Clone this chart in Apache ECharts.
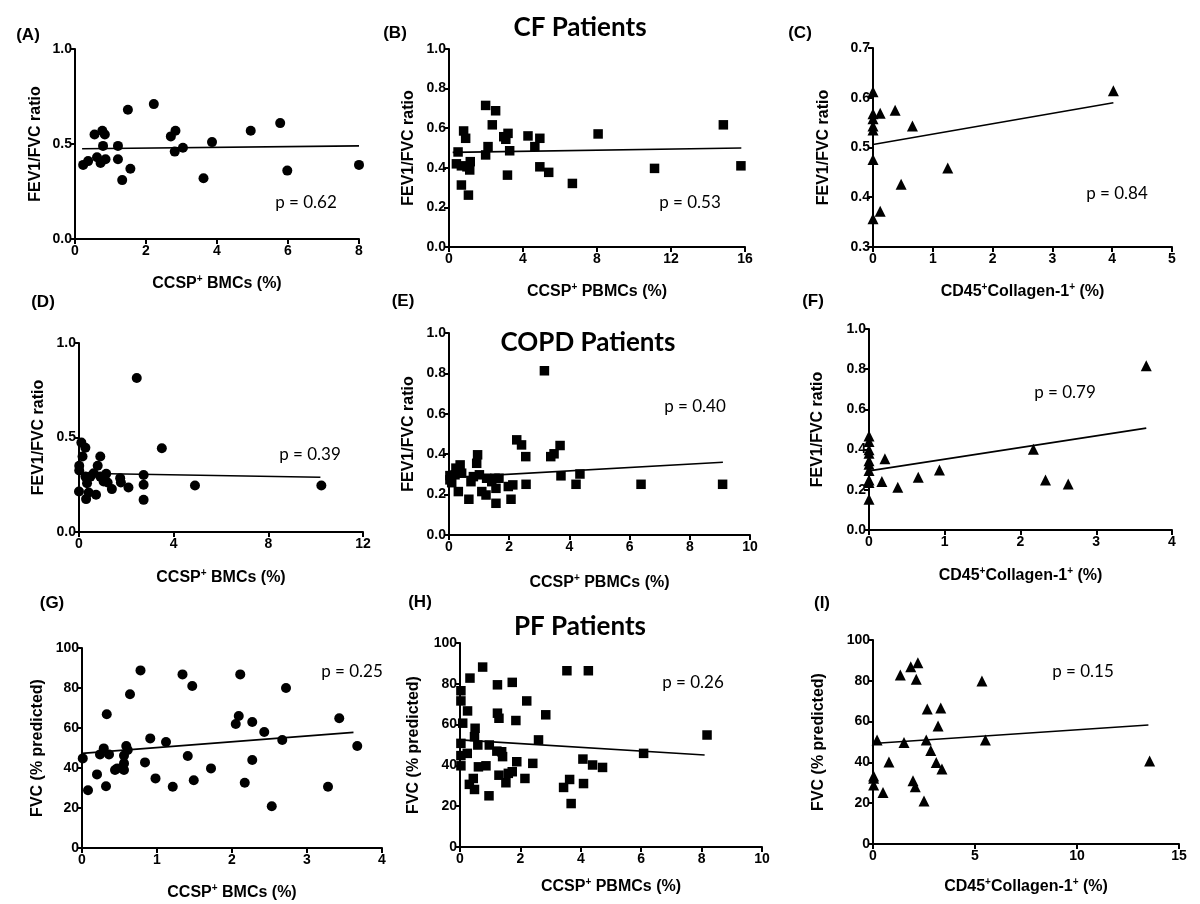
<!DOCTYPE html>
<html>
<head>
<meta charset="utf-8">
<script src="https://cdn.jsdelivr.net/npm/echarts@6/dist/echarts.min.js"></script>
<style>html,body{margin:0;padding:0;background:#fff}#c{width:1200px;height:904px}</style>
</head>
<body>
<div id="c"></div>
<script>
// ---------------- DATA ----------------
// CF patients
const cfBmcFev = [[0.23,0.39],[0.37,0.41],[0.55,0.55],[0.62,0.43],[0.72,0.40],[0.77,0.57],[0.79,0.49],[0.84,0.55],[0.86,0.42],[1.21,0.49],[1.21,0.42],[1.33,0.31],[1.49,0.68],[1.56,0.37],[2.22,0.71],[2.70,0.54],[2.83,0.57],[2.81,0.46],[3.04,0.48],[3.62,0.32],[3.86,0.51],[4.95,0.57],[5.78,0.61],[5.98,0.36],[8.0,0.39]];
const cfBmcFit = [[0.2,0.475],[8.0,0.49]];
const cfPbmcFev = [[0.49,0.48],[0.40,0.42],[0.67,0.41],[0.79,0.586],[0.67,0.313],[0.90,0.549],[0.97,0.405],[1.05,0.262],[1.12,0.389],[1.15,0.431],[1.98,0.715],[1.98,0.465],[2.11,0.507],[2.34,0.617],[2.52,0.688],[2.96,0.557],[3.07,0.544],[3.19,0.574],[3.16,0.363],[3.28,0.486],[4.27,0.561],[4.64,0.507],[4.91,0.549],[4.91,0.405],[5.39,0.377],[6.67,0.321],[8.06,0.571],[11.11,0.397],[14.83,0.617],[15.78,0.41]];
const cfPbmcFit = [[0.2,0.478],[15.8,0.50]];
const cfColFev = [[0,0.612],[0,0.568],[0,0.558],[0,0.543],[0,0.535],[0,0.476],[0,0.357],[0.12,0.569],[0.12,0.372],[0.37,0.575],[0.47,0.426],[0.66,0.543],[1.25,0.459],[4.02,0.614]];
const cfColFit = [[0,0.506],[4.02,0.59]];
// COPD patients
const copdBmcFev = [[0,0.214],[0.01,0.351],[0.01,0.325],[0.1,0.473],[0.15,0.399],[0.27,0.446],[0.3,0.174],[0.27,0.293],[0.34,0.258],[0.41,0.209],[0.48,0.293],[0.62,0.311],[0.72,0.197],[0.79,0.351],[0.90,0.399],[0.90,0.293],[1.04,0.267],[1.15,0.308],[1.21,0.262],[1.39,0.227],[1.74,0.285],[1.77,0.262],[2.09,0.235],[2.44,0.815],[2.73,0.302],[2.73,0.25],[2.73,0.17],[3.5,0.443],[4.9,0.246],[10.24,0.246]];
const copdBmcFit = [[0,0.311],[10.2,0.29]];
const copdPbmcFev = [[0.03,0.294],[0.03,0.273],[0.09,0.259],[0.2,0.298],[0.23,0.331],[0.31,0.215],[0.37,0.347],[0.42,0.306],[0.66,0.177],[0.73,0.264],[0.81,0.289],[0.92,0.355],[0.95,0.397],[1.01,0.298],[1.09,0.215],[1.23,0.198],[1.25,0.281],[1.42,0.264],[1.53,0.281],[1.56,0.231],[1.56,0.157],[1.66,0.281],[1.97,0.24],[2.06,0.177],[2.12,0.248],[2.25,0.471],[2.41,0.446],[2.55,0.388],[2.56,0.251],[3.17,0.813],[3.38,0.388],[3.49,0.402],[3.69,0.443],[3.72,0.293],[4.22,0.251],[4.35,0.302],[6.38,0.251],[9.09,0.251]];
const copdPbmcFit = [[0,0.284],[9.1,0.36]];
const copdColFev = [[0,0.468],[0,0.44],[0,0.399],[0,0.382],[0,0.344],[0,0.327],[0,0.296],[0,0.249],[0,0.236],[0,0.153],[0.17,0.241],[0.21,0.354],[0.38,0.213],[0.65,0.262],[0.93,0.299],[2.17,0.402],[2.33,0.249],[2.63,0.229],[3.66,0.817]];
const copdColFit = [[0,0.294],[3.66,0.507]];
// PF patients
const pfBmcFvc = [[0.01,44.8],[0.08,28.9],[0.2,36.8],[0.24,46.8],[0.29,49.8],[0.32,30.9],[0.33,66.9],[0.36,46.8],[0.44,39],[0.47,39.8],[0.56,39],[0.56,42.3],[0.56,46.2],[0.59,51],[0.61,49],[0.64,76.9],[0.78,88.8],[0.84,42.8],[0.91,54.8],[0.98,34.8],[1.12,53],[1.21,30.6],[1.34,86.8],[1.41,46],[1.47,81],[1.49,33.9],[1.72,39.8],[2.05,62],[2.09,66],[2.11,86.8],[2.17,32.6],[2.27,63],[2.27,44],[2.43,58],[2.53,20.9],[2.67,54],[2.72,80],[3.28,30.6],[3.43,64.9],[3.67,51]];
const pfBmcFit = [[0,47.3],[3.62,57.8]];
const pfPbmcFvc = [[0.03,76.6],[0.03,71.6],[0.09,60.7],[0.03,50.8],[0.03,44.8],[0.03,39.8],[0.24,45.9],[0.25,66.7],[0.33,82.8],[0.31,30.7],[0.44,33.6],[0.48,28.2],[0.5,58.2],[0.48,54.1],[0.59,50],[0.61,39.3],[0.75,88.2],[0.86,39.8],[0.96,25.1],[0.97,50],[1.22,47],[1.24,79.5],[1.24,65.6],[1.29,63.1],[1.29,35.2],[1.38,46.7],[1.41,44.3],[1.52,31.5],[1.6,36.1],[1.73,80.7],[1.73,36.9],[1.85,62],[1.88,41.8],[2.15,33.6],[2.21,71.6],[2.41,41],[2.6,52.5],[2.84,64.8],[3.43,29.2],[3.54,86.4],[3.63,33.1],[3.68,21.3],[4.07,43.1],[4.09,31.1],[4.25,86.4],[4.39,40.2],[4.72,39],[6.08,45.9],[8.18,54.9]];
const pfPbmcFit = [[0,52.5],[8.1,45.1]];
const pfColFvc = [[0.03,33.3],[0.03,32.2],[0.03,28.9],[0.2,51],[0.49,25.2],[0.78,40.2],[1.34,82.8],[1.52,49.8],[1.85,86.9],[1.96,31],[2.07,28.1],[2.12,80.7],[2.2,88.9],[2.5,21.1],[2.61,51],[2.66,66.2],[2.83,45.8],[3.1,40],[3.19,57.8],[3.32,66.7],[3.38,36.8],[5.34,79.9],[5.51,51],[13.56,40.7]];
const pfColFit = [[0,49.3],[13.5,58.3]];

// Labels
const panelLetters = ['(A)','(B)','(C)','(D)','(E)','(F)','(G)','(H)','(I)'];
const pValues = ['p = 0.62','p = 0.53','p = 0.84','p = 0.39','p = 0.40','p = 0.79','p = 0.25','p = 0.26','p = 0.15'];
const groupTitles = ['CF Patients','COPD Patients','PF Patients'];
const xNames = ['CCSP{s|+} BMCs (%)','CCSP{s|+} PBMCs (%)','CD45{s|+}Collagen-1{s|+} (%)'];
const yNames = ['FEV1/FVC ratio','FEV1/FVC ratio','FVC (% predicted)'];

// ---------------- LAYOUT ----------------
const AX = 'Liberation Sans, Arial, sans-serif';
const CAL = 'Lato, "Open Sans", sans-serif';
const panels = [
  {d:cfBmcFev, f:cfBmcFit, sym:'circle', g:[75,49,284,190], x:[0,8,2], y:[0,1,0.5], row:0, col:0, lab:[28,35], p:[306,203], xg:35, yg:31},
  {d:cfPbmcFev, f:cfPbmcFit, sym:'rect', g:[449,49,296,198], x:[0,16,4], y:[0,1,0.2], row:0, col:1, lab:[395,33], p:[690,203], xg:35, yg:32},
  {d:cfColFev, f:cfColFit, sym:'triangle', g:[873,48,299,199], x:[0,5,1], y:[0.3,0.7,0.1], row:0, col:2, lab:[800,33], p:[1117,194], xg:35, yg:41},
  {d:copdBmcFev, f:copdBmcFit, sym:'circle', g:[79,343,284,189], x:[0,12,4], y:[0,1,0.5], row:1, col:0, lab:[43,302], p:[310,455], xg:36, yg:32},
  {d:copdPbmcFev, f:copdPbmcFit, sym:'rect', g:[449,333,301,202], x:[0,10,2], y:[0,1,0.2], row:1, col:1, lab:[403,301], p:[695,407], xg:38, yg:32},
  {d:copdColFev, f:copdColFit, sym:'triangle', g:[869,329,303,201], x:[0,4,1], y:[0,1,0.2], row:1, col:2, lab:[813,301], p:[1065,393], xg:36, yg:43},
  {d:pfBmcFvc, f:pfBmcFit, sym:'circle', g:[82,648,300,200], x:[0,4,1], y:[0,100,20], row:2, col:0, lab:[52,603], p:[352,672], xg:35, yg:36},
  {d:pfPbmcFvc, f:pfPbmcFit, sym:'rect', g:[460,643,302,204], x:[0,10,2], y:[0,100,20], row:2, col:1, lab:[420,602], p:[693,683], xg:30, yg:38},
  {d:pfColFvc, f:pfColFit, sym:'triangle', g:[873,640,306,204], x:[0,15,5], y:[0,100,20], row:2, col:2, lab:[822,603], p:[1083,672], xg:33, yg:46}
];
const titlePos = [[580,28],[588,343],[580,627]];
const symSize = {circle:10, rect:9.5, triangle:11};

const grid=[], xAxis=[], yAxis=[], series=[], graphic=[];
const axisCommon = {
  axisLine:{show:true, onZero:false, lineStyle:{color:'#000', width:2}},
  axisTick:{show:true, length:5, lineStyle:{color:'#000', width:2}},
  splitLine:{show:false}
};
panels.forEach((p,i)=>{
  grid.push({left:p.g[0], top:p.g[1], width:p.g[2], height:p.g[3], containLabel:false});
  xAxis.push(Object.assign({}, axisCommon, {
    type:'value', gridIndex:i, min:p.x[0], max:p.x[1], interval:p.x[2],
    axisLabel:{color:'#000', fontFamily:AX, fontWeight:'bold', fontSize:14, margin:5},
    name:xNames[p.col], nameLocation:'middle', nameGap:p.xg,
    nameTextStyle:{color:'#000', fontFamily:AX, fontWeight:'bold', fontSize:16,
      rich:{s:{fontSize:10, fontFamily:AX, fontWeight:'bold', color:'#000', verticalAlign:'top', lineHeight:19}}}
  }));
  const dec = p.y[2] < 1 ? 1 : 0;
  yAxis.push(Object.assign({}, axisCommon, {
    type:'value', gridIndex:i, min:p.y[0], max:p.y[1], interval:p.y[2],
    axisLabel:{color:'#000', fontFamily:AX, fontWeight:'bold', fontSize:14, margin:3,
      formatter:v=>Number(v).toFixed(dec)},
    name:yNames[p.row], nameLocation:'middle', nameGap:p.yg,
    nameTextStyle:{color:'#000', fontFamily:AX, fontWeight:'bold', fontSize:16}
  }));
  series.push({type:'scatter', xAxisIndex:i, yAxisIndex:i, data:p.d, symbol:p.sym,
    symbolSize:symSize[p.sym], itemStyle:{color:'#000', opacity:1}, silent:true, z:3});
  series.push({type:'line', xAxisIndex:i, yAxisIndex:i, data:p.f, symbol:'none',
    lineStyle:{color:'#000', width:1.6}, silent:true, z:4});
  graphic.push({type:'text', x:p.lab[0], y:p.lab[1], style:{text:panelLetters[i], fill:'#000',
    font:'bold 17px '+AX, textAlign:'center', textVerticalAlign:'middle'}});
  graphic.push({type:'text', x:p.p[0], y:p.p[1], style:{text:pValues[i], fill:'#000',
    font:'17px '+CAL, textAlign:'center', textVerticalAlign:'middle'}});
});
groupTitles.forEach((t,i)=>{
  graphic.push({type:'text', x:titlePos[i][0], y:titlePos[i][1], style:{text:t, fill:'#000',
    font:'bold 26px '+CAL, textAlign:'center', textVerticalAlign:'middle'}});
});

const chart = echarts.init(document.getElementById('c'), null, {renderer:'canvas'});
chart.setOption({backgroundColor:'#fff', animation:false, grid, xAxis, yAxis, series, graphic});
</script>
</body>
</html>
